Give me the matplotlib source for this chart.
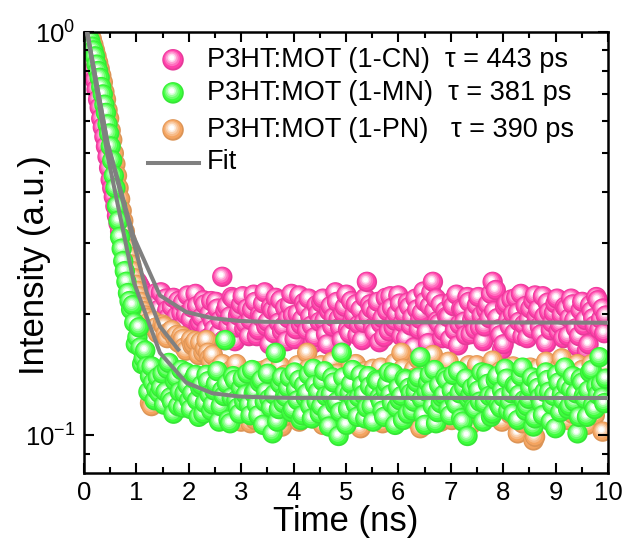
import matplotlib
matplotlib.use('Agg')
import matplotlib.pyplot as plt
from matplotlib.ticker import MultipleLocator, LogLocator
import numpy as np

plt.rcParams['font.family'] = ['Liberation Sans', 'DejaVu Sans']
plt.rcParams['mathtext.fontset'] = 'custom'
plt.rcParams['mathtext.rm'] = 'Liberation Sans'

# time axis of the decays (ns), two interleaved read-outs
t = np.round(0.06 * np.arange(1, 167), 2)
t2 = np.round(t - 0.03, 2)

# P3HT:MOT (1-CN)
cn = [0.95, 0.88, 0.80, 0.72, 0.65, 0.58, 0.52, 0.46, 0.41, 0.37,
      0.335, 0.305, 0.285, 0.27, 0.255, 0.245, 0.24, 0.232, 0.225, 0.218,
      0.212, 0.198, 0.225, 0.205, 0.185, 0.218, 0.196, 0.208, 0.178, 0.215,
      0.201, 0.188, 0.222, 0.194, 0.175, 0.209, 0.19, 0.216, 0.183, 0.2,
      0.192, 0.214, 0.179, 0.247, 0.203, 0.187, 0.22, 0.171, 0.198, 0.211,
      0.184, 0.206, 0.193, 0.223, 0.176, 0.199, 0.212, 0.186, 0.168, 0.204,
      0.219, 0.19, 0.181, 0.207, 0.195, 0.224, 0.173, 0.2, 0.188, 0.213,
      0.182, 0.197, 0.169, 0.21, 0.191, 0.218, 0.178, 0.203, 0.186, 0.226,
      0.194, 0.172, 0.208, 0.183, 0.215, 0.199, 0.177, 0.205, 0.19, 0.24,
      0.211, 0.185, 0.202, 0.17, 0.195, 0.219, 0.181, 0.207, 0.192, 0.222,
      0.176, 0.2, 0.213, 0.187, 0.165, 0.205, 0.194, 0.227, 0.18, 0.209,
      0.24, 0.218, 0.189, 0.174, 0.203, 0.196, 0.214, 0.182, 0.167, 0.206,
      0.191, 0.22, 0.178, 0.199, 0.21, 0.185, 0.171, 0.204, 0.195, 0.24,
      0.229, 0.183, 0.163, 0.208, 0.193, 0.217, 0.179, 0.201, 0.224, 0.188,
      0.174, 0.206, 0.215, 0.197, 0.186, 0.221, 0.169, 0.202, 0.19, 0.212,
      0.181, 0.199, 0.208, 0.176, 0.218, 0.193, 0.166, 0.204, 0.187, 0.162,
      0.21, 0.195, 0.22, 0.183, 0.206, 0.198]
cn2 = [0.98, 0.91, 0.84, 0.76, 0.68, 0.61, 0.55, 0.49, 0.43, 0.39,
       0.35, 0.32, 0.295, 0.275, 0.262, 0.25, 0.242, 0.236, 0.228, 0.221,
       0.205, 0.221, 0.189, 0.212, 0.226, 0.193, 0.204, 0.182, 0.219, 0.197,
       0.186, 0.213, 0.199, 0.178, 0.207, 0.224, 0.188, 0.196, 0.211, 0.174,
       0.215, 0.183, 0.206, 0.193, 0.172, 0.209, 0.197, 0.218, 0.185, 0.202,
       0.221, 0.189, 0.176, 0.205, 0.214, 0.182, 0.196, 0.226, 0.191, 0.208,
       0.179, 0.203, 0.216, 0.186, 0.171, 0.21, 0.198, 0.183, 0.222, 0.194,
       0.207, 0.218, 0.187, 0.175, 0.2, 0.213, 0.192, 0.168, 0.209, 0.196,
       0.214, 0.185, 0.201, 0.223, 0.179, 0.193, 0.211, 0.188, 0.172, 0.219,
       0.197, 0.206, 0.18, 0.214, 0.189, 0.175, 0.203, 0.221, 0.185, 0.2,
       0.212, 0.19, 0.174, 0.208, 0.196, 0.218, 0.183, 0.201, 0.214, 0.169,
       0.226, 0.204, 0.192, 0.211, 0.181, 0.197, 0.173, 0.209, 0.223, 0.188,
       0.205, 0.177, 0.214, 0.193, 0.183, 0.22, 0.198, 0.186, 0.211, 0.224,
       0.203, 0.195, 0.177, 0.168, 0.212, 0.186, 0.2, 0.219, 0.191, 0.176,
       0.209, 0.193, 0.184, 0.222, 0.205, 0.178, 0.197, 0.213, 0.182, 0.201,
       0.218, 0.188, 0.174, 0.206, 0.195, 0.211, 0.184, 0.176, 0.214, 0.193,
       0.168, 0.203, 0.187, 0.216, 0.194, 0.179]

# P3HT:MOT (1-PN)
pn = [1.0, 0.98, 0.93, 0.87, 0.81, 0.75, 0.68, 0.61, 0.54, 0.47,
      0.41, 0.36, 0.32, 0.29, 0.265, 0.245, 0.228, 0.214, 0.203, 0.195,
      0.12, 0.192, 0.185, 0.13, 0.188, 0.178, 0.122, 0.182, 0.175, 0.17,
      0.176, 0.165, 0.135, 0.172, 0.168, 0.128, 0.17, 0.16, 0.172, 0.155,
      0.158, 0.14, 0.118, 0.15, 0.125, 0.112, 0.145, 0.121, 0.132, 0.108,
      0.138, 0.115, 0.107, 0.129, 0.144, 0.119, 0.126, 0.111, 0.147, 0.123,
      0.116, 0.134, 0.105, 0.141, 0.121, 0.128, 0.113, 0.149, 0.126, 0.118,
      0.16, 0.131, 0.11, 0.139, 0.124, 0.106, 0.143, 0.12, 0.152, 0.115,
      0.127, 0.109, 0.137, 0.122, 0.148, 0.114, 0.13, 0.104, 0.141, 0.125,
      0.112, 0.146, 0.119, 0.133, 0.107, 0.14, 0.124, 0.116, 0.151, 0.129,
      0.16, 0.118, 0.136, 0.11, 0.145, 0.123, 0.104, 0.132, 0.148, 0.117,
      0.158, 0.126, 0.113, 0.14, 0.121, 0.152, 0.109, 0.135, 0.127, 0.115,
      0.144, 0.12, 0.106, 0.131, 0.149, 0.118, 0.138, 0.112, 0.125, 0.153,
      0.117, 0.134, 0.108, 0.146, 0.141, 0.129, 0.122, 0.101, 0.114, 0.132,
      0.119, 0.147, 0.097, 0.126, 0.138, 0.111, 0.152, 0.123, 0.134, 0.116,
      0.145, 0.155, 0.121, 0.109, 0.137, 0.128, 0.15, 0.113, 0.131, 0.106,
      0.142, 0.124, 0.118, 0.139, 0.102, 0.148]
pn2 = [1.0, 1.0, 0.96, 0.90, 0.84, 0.78, 0.71, 0.64, 0.57, 0.5,
       0.44, 0.385, 0.34, 0.305, 0.277, 0.255, 0.236, 0.221, 0.208, 0.198,
       0.19, 0.118, 0.184, 0.179, 0.125, 0.186, 0.174, 0.181, 0.132, 0.177,
       0.169, 0.173, 0.162, 0.14, 0.167, 0.171, 0.158, 0.133, 0.164, 0.16,
       0.152, 0.127, 0.146, 0.137, 0.114, 0.141, 0.129, 0.119, 0.15, 0.124,
       0.113, 0.133, 0.142, 0.12, 0.109, 0.136, 0.127, 0.145, 0.117, 0.13,
       0.139, 0.122, 0.148, 0.111, 0.128, 0.135, 0.119, 0.143, 0.108, 0.132,
       0.125, 0.146, 0.114, 0.134, 0.121, 0.149, 0.117, 0.128, 0.138, 0.105,
       0.142, 0.119, 0.131, 0.112, 0.137, 0.126, 0.15, 0.116, 0.123, 0.144,
       0.13, 0.109, 0.138, 0.125, 0.147, 0.118, 0.133, 0.142, 0.111, 0.127,
       0.135, 0.146, 0.114, 0.129, 0.121, 0.139, 0.154, 0.116, 0.126, 0.137,
       0.119, 0.143, 0.131, 0.108, 0.147, 0.124, 0.136, 0.113, 0.141, 0.129,
       0.122, 0.137, 0.149, 0.115, 0.128, 0.14, 0.11, 0.132, 0.145, 0.121,
       0.139, 0.126, 0.144, 0.118, 0.13, 0.113, 0.148, 0.124, 0.135, 0.107,
       0.143, 0.121, 0.129, 0.099, 0.146, 0.117, 0.132, 0.14, 0.111, 0.127,
       0.136, 0.148, 0.119, 0.142, 0.124, 0.113, 0.139, 0.128, 0.145, 0.117,
       0.131, 0.15, 0.112, 0.136, 0.125, 0.143]

# P3HT:MOT (1-MN)
mn = [1.0, 0.95, 0.90, 0.83, 0.77, 0.70, 0.63, 0.56, 0.48, 0.41,
      0.34, 0.29, 0.255, 0.225, 0.205, 0.19, 0.175, 0.165, 0.155, 0.148,
      0.14, 0.135, 0.13, 0.127,
      0.142, 0.128, 0.151, 0.121, 0.136, 0.118, 0.145, 0.127, 0.133, 0.116,
      0.138, 0.122, 0.131, 0.113, 0.141, 0.126, 0.119, 0.134, 0.108, 0.129,
      0.172, 0.109, 0.124, 0.137, 0.117, 0.131, 0.121, 0.142, 0.112, 0.127,
      0.119, 0.135, 0.106, 0.128, 0.123, 0.101, 0.16, 0.116, 0.139, 0.125,
      0.131, 0.114, 0.143, 0.122, 0.109, 0.133, 0.127, 0.118, 0.146, 0.121,
      0.113, 0.136, 0.125, 0.105, 0.139, 0.119, 0.0995, 0.16, 0.128, 0.116,
      0.134, 0.122, 0.111, 0.141, 0.126, 0.117, 0.132, 0.108, 0.137, 0.124,
      0.115, 0.129, 0.143, 0.12, 0.106, 0.131, 0.125, 0.138, 0.113, 0.127,
      0.121, 0.135, 0.156, 0.112, 0.128, 0.141, 0.118, 0.107, 0.133, 0.124,
      0.139, 0.116, 0.129, 0.122, 0.144, 0.11, 0.131, 0.0995, 0.126, 0.117,
      0.134, 0.121, 0.108, 0.142, 0.125, 0.113, 0.137, 0.119, 0.129, 0.146,
      0.115, 0.127, 0.133, 0.109, 0.14, 0.122, 0.118, 0.131, 0.105, 0.136,
      0.124, 0.112, 0.143, 0.128, 0.119, 0.104, 0.135, 0.126, 0.147, 0.116,
      0.13, 0.121, 0.101, 0.138, 0.125, 0.111, 0.143, 0.119, 0.132, 0.156,
      0.124, 0.138]
mn2 = [1.0, 0.97, 0.92, 0.87, 0.80, 0.73, 0.66, 0.59, 0.52, 0.44,
       0.37, 0.31, 0.27, 0.24, 0.215, 0.21, 0.168, 0.185, 0.15, 0.162,
       0.128, 0.148, 0.122, 0.139,
       0.131, 0.119, 0.146, 0.124, 0.113, 0.139, 0.128, 0.117, 0.143, 0.122,
       0.127, 0.141, 0.111, 0.133, 0.12, 0.136, 0.115, 0.129, 0.144, 0.118,
       0.125, 0.134, 0.107, 0.14, 0.122, 0.113, 0.138, 0.126, 0.119, 0.145,
       0.128, 0.112, 0.137, 0.121, 0.142, 0.117, 0.126, 0.108, 0.134, 0.12,
       0.124, 0.139, 0.116, 0.13, 0.137, 0.112, 0.124, 0.141, 0.11, 0.133,
       0.128, 0.118, 0.144, 0.113, 0.126, 0.135, 0.121, 0.114, 0.139, 0.106,
       0.127, 0.145, 0.119, 0.124, 0.133, 0.11, 0.14, 0.118, 0.129, 0.136,
       0.121, 0.111, 0.134, 0.126, 0.142, 0.117, 0.122, 0.109, 0.137, 0.131,
       0.115, 0.128, 0.139, 0.123, 0.106, 0.135, 0.129, 0.145, 0.114, 0.12,
       0.126, 0.137, 0.112, 0.141, 0.119, 0.127, 0.108, 0.138, 0.123, 0.131,
       0.116, 0.129, 0.143, 0.12, 0.134, 0.111, 0.125, 0.14, 0.117, 0.124,
       0.138, 0.121, 0.113, 0.132, 0.126, 0.147, 0.115, 0.123, 0.139, 0.11,
       0.131, 0.12, 0.128, 0.137, 0.108, 0.125, 0.141, 0.114, 0.122, 0.133,
       0.118, 0.14, 0.127, 0.111, 0.135, 0.123, 0.129, 0.145, 0.116, 0.126,
       0.134, 0.12]

# fits
fit_cn_t = [0.06, 0.45, 0.95, 1.45, 1.95, 2.45, 2.95, 3.45, 10.0]
fit_cn = [1.0, 0.53, 0.31, 0.222, 0.202, 0.195, 0.192, 0.191, 0.19]
fit_mn_t = [0.06, 0.45, 0.95, 1.45, 1.95, 2.45, 2.95, 3.45, 3.95, 10.0]
fit_mn = [1.0, 0.494, 0.24, 0.16, 0.135, 0.127, 0.1247, 0.124, 0.1237, 0.1236]
fit_pn_t = [0.06, 0.45, 0.95, 1.2, 1.45, 1.8]
fit_pn = [1.0, 0.53, 0.30, 0.225, 0.186, 0.163]

labels = ['P3HT:MOT (1-CN)  \u03c4 = 443 ps',
          'P3HT:MOT (1-MN)  \u03c4 = 381 ps',
          'P3HT:MOT (1-PN)   \u03c4 = 390 ps']

pink = '#ff40aa'
green = '#3cff3c'
orange = '#f4a460'

fig = plt.figure(figsize=(6.29, 5.52), dpi=100)
ax = fig.add_axes([0.1335, 0.143, 0.833, 0.799])
ax.set_yscale('log')
ax.set_xlim(0, 10)
ax.set_ylim(0.0805, 1.0)

# shading of one ball: (size factor, whiteness, shift in pixels)
shade = [(1.0, -0.1, (0, 0)),
         (0.78, 0.0, (-0.4, 0.6)),
         (0.5, 0.25, (-0.9, 1.3)),
         (0.3, 0.5, (-1.2, 1.8)),
         (0.15, 0.8, (-1.3, 2.0)),
         (0.06, 1.0, (-1.3, 2.0))]


def tone(c, f):
    c = np.array(matplotlib.colors.to_rgb(c))
    if f < 0:
        return tuple(c * (1 + f))
    return tuple(c + (1 - c) * f)


def balls(x, y, color, s=215, trans=None):
    # every ball is a stack of circles, drawn in one collection so that
    # later balls cover earlier ones
    if trans is None:
        trans = ax.transData
    pts = trans.transform(np.column_stack([x, y]))
    xy, ss, cc = [], [], []
    for p in pts:
        for fs, fw, off in shade:
            xy.append(p + np.array(off))
            ss.append(s * fs)
            cc.append(tone(color, fw))
    back = trans.inverted().transform(np.array(xy))
    ax.scatter(back[:, 0], back[:, 1], s=ss, c=cc, lw=0, transform=trans)


def merged(a, b):
    x = np.concatenate([t, t2])
    y = np.concatenate([a, b])
    o = np.argsort(x, kind='stable')
    return x[o], y[o]


balls(*merged(cn, cn2), pink)
balls(*merged(pn, pn2), orange)
balls(*merged(mn, mn2), green)

ax.plot(fit_cn_t, fit_cn, color='#808080', lw=2.9, zorder=5)
ax.plot(fit_mn_t, fit_mn, color='#808080', lw=2.9, zorder=5)
ax.plot(fit_pn_t, fit_pn, color='#808080', lw=2.9, zorder=5)

# legend drawn by hand
leg_y = [0.937, 0.862, 0.778]
for c, yy, lab in zip([pink, green, orange], leg_y, labels):
    balls([0.170], [yy], c, s=240, trans=ax.transAxes)
    ax.text(0.235, yy, lab, transform=ax.transAxes, fontsize=19.5, va='center')
ax.plot([0.122, 0.219], [0.703, 0.703], color='#808080', lw=2.9, transform=ax.transAxes)
ax.text(0.235, 0.705, 'Fit', transform=ax.transAxes, fontsize=19.5, va='center')

ax.xaxis.set_major_locator(MultipleLocator(1))
ax.xaxis.set_minor_locator(MultipleLocator(0.5))
ax.yaxis.set_major_locator(LogLocator(base=10))
ax.yaxis.set_minor_locator(LogLocator(base=10, subs=np.arange(2, 10)))
ax.tick_params(which='both', direction='in', top=True, right=True, width=1.5, labelsize=18.5)
ax.tick_params(which='major', length=7, pad=6)
ax.tick_params(which='minor', length=4, labelleft=False)
for sp in ax.spines.values():
    sp.set_linewidth(1.8)

ax.set_xlabel('Time (ns)', fontsize=25, labelpad=0)
ax.set_ylabel('Intensity (a.u.)', fontsize=25)
ax.yaxis.set_label_coords(-0.062, 0.472)

fig.savefig('out.png', dpi=100)
